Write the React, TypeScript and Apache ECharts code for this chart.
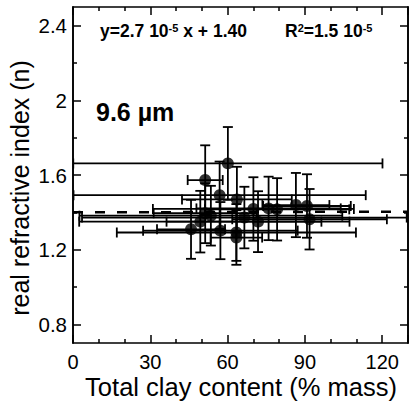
import React, { useEffect, useRef } from "react";
import * as echarts from "echarts";

const clayContent = [51.3, 60.1, 56.9, 63.6, 51.3, 53.5, 49.4, 45.8, 57.2, 63.4, 63.4, 66.5, 70.0, 71.8, 75.9, 79.2, 86.5, 90.8, 91.8];
const refractiveN = [1.573, 1.662, 1.492, 1.469, 1.395, 1.382, 1.35, 1.309, 1.302, 1.292, 1.265, 1.372, 1.418, 1.35, 1.421, 1.416, 1.439, 1.434, 1.363];
const clayErr = [6.8, 60.0, 56.7, 21.3, 20.0, 51.0, 47.0, 13.2, 30.0, 46.4, 10.0, 63.0, 39.0, 35.5, 28.0, 28.0, 13.0, 17.0, 30.0];
const nErr = [0.186, 0.195, 0.18, 0.175, 0.16, 0.16, 0.165, 0.158, 0.153, 0.152, 0.146, 0.165, 0.17, 0.163, 0.17, 0.167, 0.172, 0.17, 0.162];

const fitSlope = 2.7e-5;
const fitIntercept = 1.4;
const xRange = [0, 130];
const yRange = [0.7, 2.5];
const yMajorTicks = [0.8, 1.2, 1.6, 2, 2.4];
const yMinorTicks = [1.0, 1.4, 1.8, 2.2];

const FONT = "'Liberation Sans', Arial, Helvetica, sans-serif";

export default function App() {
  const ref = useRef<HTMLDivElement>(null);
  useEffect(() => {
    if (!ref.current) return;
    const chart = echarts.init(ref.current, null, { renderer: "svg" });
    const grid = { left: 73, top: 7, width: 335, height: 336 };
    const axisLine = { show: true, lineStyle: { color: "#000", width: 1.6 } };
    const yAxisBase = (position: string, custom: number[], len: number, labels: boolean) => ({
      type: "value",
      position,
      min: yRange[0],
      max: yRange[1],
      axisLine,
      splitLine: { show: false },
      axisTick: { show: true, inside: true, length: len, customValues: custom, lineStyle: { color: "#000", width: 1.5 } },
      axisLabel: labels
        ? { show: true, customValues: custom, color: "#000", fontSize: 20.5, fontFamily: FONT, margin: 6 }
        : { show: false },
    });
    const xAxisBase = (position: string, labels: boolean) => ({
      type: "value",
      position,
      min: xRange[0],
      max: xRange[1],
      interval: 30,
      axisLine,
      splitLine: { show: false },
      axisTick: { show: true, inside: true, length: 8, lineStyle: { color: "#000", width: 1.5 } },
      minorTick: { show: true, splitNumber: 3, length: 4, lineStyle: { color: "#000", width: 1.5 } },
      minorSplitLine: { show: false },
      axisLabel: labels
        ? { show: true, color: "#000", fontSize: 20, fontFamily: FONT, margin: 9, showMaxLabel: false }
        : { show: false },
    });
    const errData = clayContent.map((x, i) => [x, refractiveN[i], clayErr[i], nErr[i]]);
    const pts = clayContent.map((x, i) => [x, refractiveN[i]]);
    const fitData = xRange.map((x) => [x, fitIntercept + fitSlope * x]);
    const supStyle = { fontSize: 11, fontWeight: "bold", fontFamily: FONT, verticalAlign: "top", padding: [0, 0, 7, 0] };
    chart.setOption({
      animation: false,
      grid,
      xAxis: [xAxisBase("bottom", true), xAxisBase("top", false)],
      yAxis: [
        yAxisBase("left", yMajorTicks, 8, true),
        yAxisBase("left", yMinorTicks, 4, false),
        yAxisBase("right", yMajorTicks, 8, false),
        yAxisBase("right", yMinorTicks, 4, false),
      ],
      series: [
        {
          type: "custom",
          xAxisIndex: 0,
          yAxisIndex: 0,
          clip: true,
          data: errData,
          renderItem: (_params: any, api: any) => {
            const x = api.value(0);
            const y = api.value(1);
            const ex = api.value(2);
            const ey = api.value(3);
            const c = api.coord([x, y]);
            const l = api.coord([x - ex, y]);
            const r = api.coord([x + ex, y]);
            const t = api.coord([x, y + ey]);
            const b = api.coord([x, y - ey]);
            const cap = 5;
            const style = { stroke: "#000", lineWidth: 1.8 };
            const ln = (x1: number, y1: number, x2: number, y2: number) => ({
              type: "line",
              shape: { x1, y1, x2, y2 },
              style,
            });
            return {
              type: "group",
              children: [
                ln(l[0], c[1], r[0], c[1]),
                ln(l[0], c[1] - cap, l[0], c[1] + cap),
                ln(r[0], c[1] - cap, r[0], c[1] + cap),
                ln(c[0], t[1], c[0], b[1]),
                ln(c[0] - cap, t[1], c[0] + cap, t[1]),
                ln(c[0] - cap, b[1], c[0] + cap, b[1]),
              ],
            };
          },
          z: 2,
        },
        {
          type: "line",
          data: fitData,
          symbol: "none",
          lineStyle: { color: "#000", width: 2.5, type: [10, 12] },
          z: 3,
        },
        {
          type: "scatter",
          data: pts,
          symbol: "circle",
          symbolSize: 12,
          itemStyle: { color: "#000" },
          z: 4,
        },
      ],
      graphic: [
        {
          type: "text",
          left: 100,
          top: 22,
          style: {
            text: "y=2.7 10{sup|-5} x + 1.40",
            font: `bold 17.5px ${FONT}`,
            fill: "#000",
            rich: { sup: supStyle },
          },
        },
        {
          type: "text",
          left: 285,
          top: 22,
          style: {
            text: "R{sup|2}=1.5 10{sup|-5}",
            font: `bold 17.5px ${FONT}`,
            fill: "#000",
            rich: { sup: supStyle },
          },
        },
        {
          type: "text",
          x: 96,
          y: 112,
          style: {
            text: "9.6 µm",
            font: `bold 25px ${FONT}`,
            fill: "#000",
            verticalAlign: "middle",
          },
        },
        {
          type: "text",
          x: 241,
          y: 387,
          style: {
            text: "Total clay content (% mass)",
            font: `25.5px ${FONT}`,
            fill: "#000",
            align: "center",
            verticalAlign: "middle",
          },
        },
        {
          type: "text",
          x: 20,
          y: 188,
          rotation: Math.PI / 2,
          style: {
            text: "real refractive index (n)",
            font: `25px ${FONT}`,
            fill: "#000",
            align: "center",
            verticalAlign: "middle",
          },
        },
      ],
    });
    return () => chart.dispose();
  }, []);
  return <div ref={ref} style={{ width: 412, height: 403, position: "absolute", left: 0, top: 0 }} />;
}
